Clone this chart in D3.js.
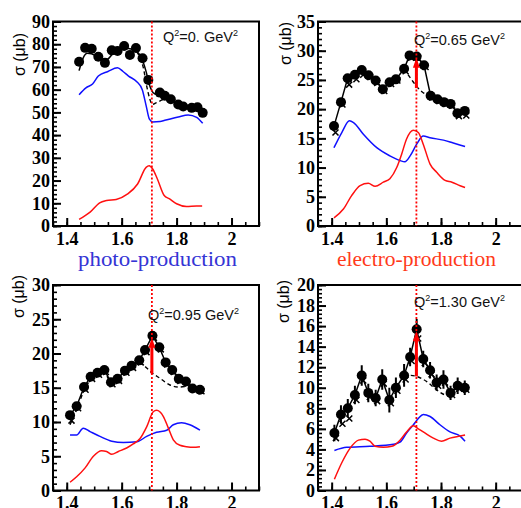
<!DOCTYPE html>
<html>
<head>
<meta charset="utf-8">
<script src="https://cdn.jsdelivr.net/npm/d3@7"></script>
<style>
  html, body { margin: 0; padding: 0; background: #fff; }
  svg { display: block; }
</style>
</head>
<body>
<svg id="chart" width="521" height="508"></svg>
<script>
// ---- shared axis settings ----
const xDomain = [1.35, 2.1];
const xTicks = [1.4, 1.6, 1.8, 2.0];
const xTickLabels = ["1.4", "1.6", "1.8", "2"];
const resonanceW = 1.71;

// ---- Q^2 = 0 (photo-production) ----
const p1W = [1.445, 1.467, 1.491, 1.515, 1.539, 1.564, 1.585, 1.609, 1.630, 1.652, 1.676, 1.697, 1.739, 1.757, 1.779, 1.806, 1.824, 1.855, 1.876, 1.895];
const p1S = [72.3, 78.4, 78.0, 74.5, 71.8, 77.3, 77.0, 79.2, 75.3, 78.3, 73.8, 64.3, 58.7, 57.3, 55.8, 53.5, 52.6, 52.0, 52.3, 49.8];
const p1E = [1.2, 1.2, 1.2, 1.2, 1.2, 1.2, 1.2, 1.2, 1.2, 1.2, 1.2, 1.2, 1.0, 1.0, 1.0, 1.0, 1.0, 1.0, 1.0, 1.0];
const fit1 = [[1.445, 68.4], [1.46, 74.0], [1.475, 76.0], [1.49, 75.8], [1.51, 74.5], [1.53, 72.8], [1.55, 73.5], [1.57, 76.2], [1.59, 77.6], [1.61, 78.3], [1.63, 78.0], [1.65, 77.2], [1.665, 75.5], [1.68, 71.5], [1.69, 67.5], [1.70, 62.5], [1.71, 59.5], [1.72, 58.2], [1.74, 57.6], [1.76, 56.6], [1.78, 55.2], [1.80, 53.6], [1.82, 52.6], [1.85, 51.6], [1.875, 51.2], [1.895, 50.2]];
const bg1 = [[1.655, 76.6], [1.667, 74.0], [1.679, 69.6], [1.69, 62.3], [1.703, 55.7], [1.711, 53.5], [1.727, 54.3], [1.757, 55.7], [1.78, 55.2]];
const blue1 = [[1.445, 57.8], [1.47, 60.8], [1.494, 62.5], [1.515, 66.0], [1.55, 68.0], [1.585, 69.6], [1.605, 68.0], [1.625, 66.0], [1.655, 63.5], [1.675, 60.0], [1.689, 53.0], [1.701, 47.0], [1.713, 45.8], [1.74, 46.0], [1.757, 46.5], [1.806, 48.0], [1.842, 48.9], [1.873, 47.8], [1.895, 45.2]];
const red1 = [[1.445, 2.9], [1.485, 6.1], [1.52, 10.2], [1.545, 11.2], [1.58, 11.7], [1.622, 14.1], [1.658, 18.5], [1.689, 25.8], [1.70, 26.5], [1.713, 25.1], [1.73, 20.7], [1.755, 13.4], [1.773, 12.0], [1.80, 9.8], [1.836, 8.6], [1.873, 8.8], [1.893, 8.8]];

// ---- Q^2 = 0.65 GeV^2 ----
const p2W = [1.4085, 1.434, 1.4585, 1.485, 1.51, 1.535, 1.561, 1.587, 1.612, 1.635, 1.665, 1.685, 1.711, 1.738, 1.762, 1.787, 1.811, 1.835, 1.86, 1.887];
const p2S = [17.1, 21.2, 25.3, 25.9, 26.7, 25.8, 24.9, 23.4, 24.6, 25.1, 26.9, 29.2, 29.0, 27.5, 22.3, 21.7, 21.2, 20.9, 19.3, 19.7];
const p2E = [0.6, 0.6, 0.6, 0.6, 0.6, 0.6, 0.6, 0.6, 0.6, 0.6, 0.6, 0.6, 0.6, 0.6, 0.5, 0.5, 0.5, 0.5, 0.6, 0.6];
const p2X = [16.0, 20.8, 24.2, 25.1, 25.9, 25.5, 24.5, 23.1, 24.3, 24.9, 26.5, 28.8, 28.7, 27.2, 22.0, 21.4, 20.9, 20.6, 18.8, 18.9];
const bg2 = [[1.665, 26.9], [1.69, 25.2], [1.711, 23.9], [1.735, 22.8], [1.762, 22.3]];
const blue2 = [[1.4085, 13.4], [1.437, 16.0], [1.465, 18.0], [1.48, 17.7], [1.516, 15.7], [1.565, 13.4], [1.613, 12.0], [1.65, 11.2], [1.668, 11.0], [1.687, 12.0], [1.711, 14.0], [1.735, 15.4], [1.76, 15.1], [1.809, 14.7], [1.845, 14.2], [1.888, 13.6]];
const red2 = [[1.4085, 1.4], [1.443, 2.9], [1.473, 5.2], [1.504, 6.9], [1.534, 7.3], [1.559, 6.8], [1.589, 7.5], [1.613, 8.1], [1.638, 10.0], [1.656, 12.3], [1.674, 14.9], [1.699, 16.4], [1.717, 16.0], [1.735, 14.0], [1.76, 10.6], [1.784, 9.2], [1.815, 7.8], [1.84, 7.5], [1.87, 6.9], [1.888, 6.6]];
const arrow2 = [23.6, 28.8];

// ---- Q^2 = 0.95 GeV^2 ----
const p3W = [1.412, 1.436, 1.463, 1.487, 1.512, 1.537, 1.561, 1.585, 1.612, 1.636, 1.664, 1.685, 1.712, 1.737, 1.76, 1.784, 1.808, 1.834, 1.858, 1.885];
const p3S = [11.0, 12.3, 15.1, 16.6, 17.2, 17.6, 15.8, 16.3, 17.5, 18.2, 19.0, 20.5, 22.6, 20.9, 18.7, 17.6, 16.3, 15.9, 14.9, 14.7];
const p3E = [0.5, 0.5, 0.5, 0.5, 0.5, 0.5, 0.5, 0.5, 0.5, 0.5, 0.5, 0.5, 0.5, 0.5, 0.5, 0.5, 0.5, 0.5, 0.5, 0.5];
const p3X = [10.2, 12.0, 14.7, 16.3, 16.9, 17.3, 15.5, 16.0, 17.2, 17.9, 18.7, 20.2, 22.3, 20.6, 18.4, 17.3, 16.0, 15.6, 14.7, 14.5];
const bg3 = [[1.412, 9.6], [1.436, 11.8], [1.463, 14.6], [1.487, 16.2], [1.512, 16.9], [1.537, 17.2], [1.561, 15.8], [1.585, 16.2], [1.612, 17.3], [1.636, 18.0], [1.664, 18.6], [1.685, 18.1], [1.712, 17.1], [1.739, 16.4], [1.776, 15.4], [1.806, 15.1], [1.834, 15.2]];
const blue3 = [[1.412, 8.1], [1.436, 8.1], [1.46, 9.1], [1.485, 8.6], [1.521, 7.9], [1.564, 7.2], [1.606, 7.0], [1.655, 7.1], [1.691, 7.9], [1.727, 8.5], [1.764, 8.8], [1.788, 9.6], [1.818, 9.9], [1.848, 9.6], [1.885, 8.8]];
const red3 = [[1.412, 1.2], [1.436, 2.0], [1.467, 3.3], [1.497, 5.0], [1.527, 5.8], [1.545, 5.7], [1.564, 5.3], [1.588, 5.7], [1.618, 6.2], [1.642, 6.8], [1.667, 7.6], [1.691, 9.3], [1.715, 11.5], [1.727, 11.7], [1.752, 10.8], [1.77, 9.1], [1.788, 7.4], [1.812, 6.6], [1.836, 6.4], [1.86, 6.3], [1.885, 6.4]];
const arrow3 = [17.1, 22.3];

// ---- Q^2 = 1.30 GeV^2 ----
const p4W = [1.41, 1.434, 1.459, 1.485, 1.51, 1.534, 1.561, 1.585, 1.611, 1.635, 1.665, 1.687, 1.711, 1.735, 1.76, 1.784, 1.809, 1.835, 1.861, 1.887];
const p4S = [5.6, 7.4, 8.0, 9.3, 11.2, 9.5, 9.0, 10.8, 8.8, 10.0, 11.2, 13.0, 15.7, 12.8, 11.7, 10.5, 10.8, 9.5, 10.2, 10.0];
const p4E = [0.8, 0.9, 0.9, 0.9, 1.0, 0.9, 0.8, 1.0, 1.2, 1.0, 1.1, 0.9, 1.0, 0.8, 0.8, 0.8, 0.9, 0.7, 0.8, 0.7];
const p4X = [5.1, 6.5, 7.0, 8.8, 10.7, 9.1, 8.7, 10.4, 8.5, 9.7, 10.8, 12.6, 14.8, 12.4, 11.3, 10.2, 10.5, 9.3, 9.9, 9.8];
const bg4 = [[1.665, 11.0], [1.69, 11.2], [1.711, 11.1], [1.748, 10.6], [1.784, 9.8], [1.82, 9.3], [1.85, 9.5]];
const blue4 = [[1.41, 3.9], [1.455, 4.2], [1.54, 4.3], [1.626, 4.5], [1.65, 4.7], [1.674, 5.6], [1.699, 6.4], [1.717, 7.0], [1.735, 7.4], [1.76, 7.2], [1.796, 6.4], [1.833, 5.7], [1.87, 5.3], [1.888, 4.8]];
const red4 = [[1.41, 1.1], [1.437, 2.7], [1.467, 4.1], [1.498, 4.9], [1.522, 5.0], [1.54, 4.8], [1.559, 4.3], [1.589, 4.2], [1.62, 4.3], [1.65, 4.9], [1.674, 5.7], [1.699, 6.3], [1.717, 6.0], [1.741, 5.6], [1.772, 5.1], [1.802, 4.8], [1.833, 5.1], [1.87, 5.3], [1.888, 5.4]];
const arrow4 = [11.1, 15.5];

// ---- panel layout ----
const panels = [
  { q2: "0.",   yMax: 90, yStep: 10, yMinor: 2,   W: p1W, S: p1S, E: p1E, X: null, fit: fit1, bg: bg1, blue: blue1, red: red1, arrow: null,
    box: { l: 53, r: 259, t: 21.5, b: 226 }, xPad: 6, title: { x: 25, y: 33 }, label: { x: 163, y: 41.5 } },
  { q2: "0.65", yMax: 35, yStep: 5,  yMinor: 1,   W: p2W, S: p2S, E: p2E, X: p2X, fit: null, bg: bg2, blue: blue2, red: red2, arrow: arrow2,
    box: { l: 318, r: 523, t: 21.5, b: 226 }, xPad: 6, title: { x: 291, y: 22 }, label: { x: 414, y: 45 } },
  { q2: "0.95", yMax: 30, yStep: 5,  yMinor: 1,   W: p3W, S: p3S, E: p3E, X: p3X, fit: null, bg: bg3, blue: blue3, red: red3, arrow: arrow3,
    box: { l: 53, r: 259, t: 285, b: 490.5 }, xPad: 5.5, title: { x: 24, y: 275 }, label: { x: 148, y: 320 } },
  { q2: "1.30", yMax: 20, yStep: 2,  yMinor: 0.4, W: p4W, S: p4S, E: p4E, X: p4X, fit: null, bg: bg4, blue: blue4, red: red4, arrow: arrow4,
    box: { l: 318, r: 523, t: 285, b: 490.5 }, xPad: 5.5, title: { x: 289, y: 280 }, label: { x: 414, y: 306.5 } }
];

const svg = d3.select("#chart");
const defs = svg.append("defs");
const tickFont = "'Liberation Serif', 'Times New Roman', serif";
const sansFont = "'Liberation Sans', Arial, Helvetica, sans-serif";

panels.forEach((p, idx) => {
  const { l, r, t, b } = p.box;
  const x = d3.scaleLinear().domain(xDomain).range([l, r]);
  const y = d3.scaleLinear().domain([0, p.yMax]).range([b, t]);
  const g = svg.append("g");

  defs.append("clipPath").attr("id", "clip" + idx)
    .append("rect").attr("x", l).attr("y", t).attr("width", r - l).attr("height", b - t);

  // x axis: major and minor ticks pointing inwards
  const xMinor = d3.range(0, 16).map(i => 1.35 + i * 0.05);
  g.append("g").attr("transform", `translate(0,${b})`)
    .call(d3.axisBottom(x).tickValues(xMinor).tickFormat("").tickSizeInner(-4).tickSizeOuter(0))
    .call(a => a.select(".domain").remove())
    .call(a => a.selectAll("line").attr("stroke-width", 1.6));
  g.append("g").attr("transform", `translate(0,${b})`)
    .call(d3.axisBottom(x).tickValues(xTicks).tickFormat((d, i) => xTickLabels[i]).tickSizeInner(-8).tickSizeOuter(0).tickPadding(p.xPad))
    .call(a => a.select(".domain").remove())
    .call(a => a.selectAll("line").attr("stroke-width", 2))
    .call(a => a.selectAll("text").attr("font-family", tickFont).attr("font-weight", "bold").attr("font-size", 18).attr("fill", "#000"));

  // y axis
  const yMinorTicks = d3.range(0, Math.round(p.yMax / p.yMinor) + 1).map(i => i * p.yMinor);
  const yMajorTicks = d3.range(0, Math.round(p.yMax / p.yStep) + 1).map(i => i * p.yStep);
  g.append("g").attr("transform", `translate(${l},0)`)
    .call(d3.axisLeft(y).tickValues(yMinorTicks).tickFormat("").tickSizeInner(-4).tickSizeOuter(0))
    .call(a => a.select(".domain").remove())
    .call(a => a.selectAll("line").attr("stroke-width", 1.6));
  g.append("g").attr("transform", `translate(${l},0)`)
    .call(d3.axisLeft(y).tickValues(yMajorTicks).tickFormat(d3.format("~g")).tickSizeInner(-8).tickSizeOuter(0).tickPadding(3))
    .call(a => a.select(".domain").remove())
    .call(a => a.selectAll("line").attr("stroke-width", 2))
    .call(a => a.selectAll("text").attr("font-family", tickFont).attr("font-weight", "bold").attr("font-size", 18).attr("fill", "#000"));

  // frame
  g.append("rect").attr("x", l).attr("y", t).attr("width", r - l).attr("height", b - t)
    .attr("fill", "none").attr("stroke", "#000").attr("stroke-width", 2);

  // y-axis title
  g.append("text")
    .attr("transform", `translate(${p.title.x},${p.title.y}) rotate(-90)`)
    .attr("text-anchor", "end")
    .attr("font-family", sansFont).attr("font-size", 16).attr("fill", "#000")
    .text("σ (μb)");

  const plot = g.append("g").attr("clip-path", `url(#clip${idx})`);
  const smooth = d3.line().x(d => x(d[0])).y(d => y(d[1])).curve(d3.curveMonotoneX);

  // model components
  plot.append("path").datum(p.blue).attr("d", smooth)
    .attr("fill", "none").attr("stroke", "#1010ff").attr("stroke-width", 1.5);
  plot.append("path").datum(p.red).attr("d", smooth)
    .attr("fill", "none").attr("stroke", "#ff1010").attr("stroke-width", 1.5);

  // background-only (dashed) and full fit (solid)
  plot.append("path").datum(p.bg).attr("d", smooth)
    .attr("fill", "none").attr("stroke", "#000").attr("stroke-width", 1.4).attr("stroke-dasharray", "4,3");
  const pts = p.W.map((w, i) => [w, p.S[i]]);
  if (p.fit) {
    plot.append("path").datum(p.fit).attr("d", smooth)
      .attr("fill", "none").attr("stroke", "#000").attr("stroke-width", 1.5);
  } else {
    plot.append("path").datum(pts).attr("d", d3.line().x(d => x(d[0])).y(d => y(d[1])))
      .attr("fill", "none").attr("stroke", "#000").attr("stroke-width", 1.5);
  }

  // second data set: crosses
  if (p.X) {
    plot.append("g").selectAll("path").data(p.W.map((w, i) => [w, p.X[i]])).join("path")
      .attr("d", d => {
        const cx = x(d[0]) + 1.5, cy = y(d[1]), s = 3;
        return `M${cx - s},${cy - s}L${cx + s},${cy + s}M${cx - s},${cy + s}L${cx + s},${cy - s}`;
      })
      .attr("stroke", "#000").attr("stroke-width", 1.5);
  }

  // error bars and points
  plot.append("g").selectAll("line").data(p.W.map((w, i) => [w, p.S[i], p.E[i]])).join("line")
    .attr("x1", d => x(d[0])).attr("x2", d => x(d[0]))
    .attr("y1", d => y(d[1] - d[2])).attr("y2", d => y(d[1] + d[2]))
    .attr("stroke", "#000").attr("stroke-width", 2);
  plot.append("g").selectAll("circle").data(pts).join("circle")
    .attr("cx", d => x(d[0])).attr("cy", d => y(d[1])).attr("r", 5).attr("fill", "#000");

  // resonance position
  g.append("line")
    .attr("x1", x(resonanceW)).attr("x2", x(resonanceW)).attr("y1", t).attr("y2", b)
    .attr("stroke", "#ff0000").attr("stroke-width", 1.8).attr("stroke-dasharray", "2,2");

  // resonance contribution arrow
  if (p.arrow) {
    const ax = x(resonanceW), y0 = y(p.arrow[0]), y1 = y(p.arrow[1]);
    g.append("line").attr("x1", ax).attr("x2", ax).attr("y1", y0).attr("y2", y1 + 9)
      .attr("stroke", "#ff0000").attr("stroke-width", 3);
    g.append("path")
      .attr("d", `M${ax},${y1}L${ax - 3.5},${y1 + 10}L${ax + 3.5},${y1 + 10}Z`)
      .attr("fill", "#ff0000");
  }

  // Q^2 label
  const lab = g.append("text").attr("x", p.label.x).attr("y", p.label.y)
    .attr("font-family", sansFont).attr("font-size", 14.5).attr("fill", "#111");
  lab.append("tspan").text("Q");
  lab.append("tspan").attr("font-size", 9).attr("dy", -6).text("2");
  lab.append("tspan").attr("dy", 6).text("=" + p.q2 + " GeV");
  lab.append("tspan").attr("font-size", 9).attr("dy", -6).text("2");
});

// process labels
svg.append("text").attr("x", 78).attr("y", 266)
  .attr("font-family", tickFont).attr("font-size", 21.5).attr("fill", "#3535d5")
  .attr("textLength", 159).attr("lengthAdjust", "spacingAndGlyphs")
  .text("photo-production");
svg.append("text").attr("x", 337).attr("y", 266)
  .attr("font-family", tickFont).attr("font-size", 21.5).attr("fill", "#ff3a1a")
  .attr("textLength", 159).attr("lengthAdjust", "spacingAndGlyphs")
  .text("electro-production");
</script>
</body>
</html>
